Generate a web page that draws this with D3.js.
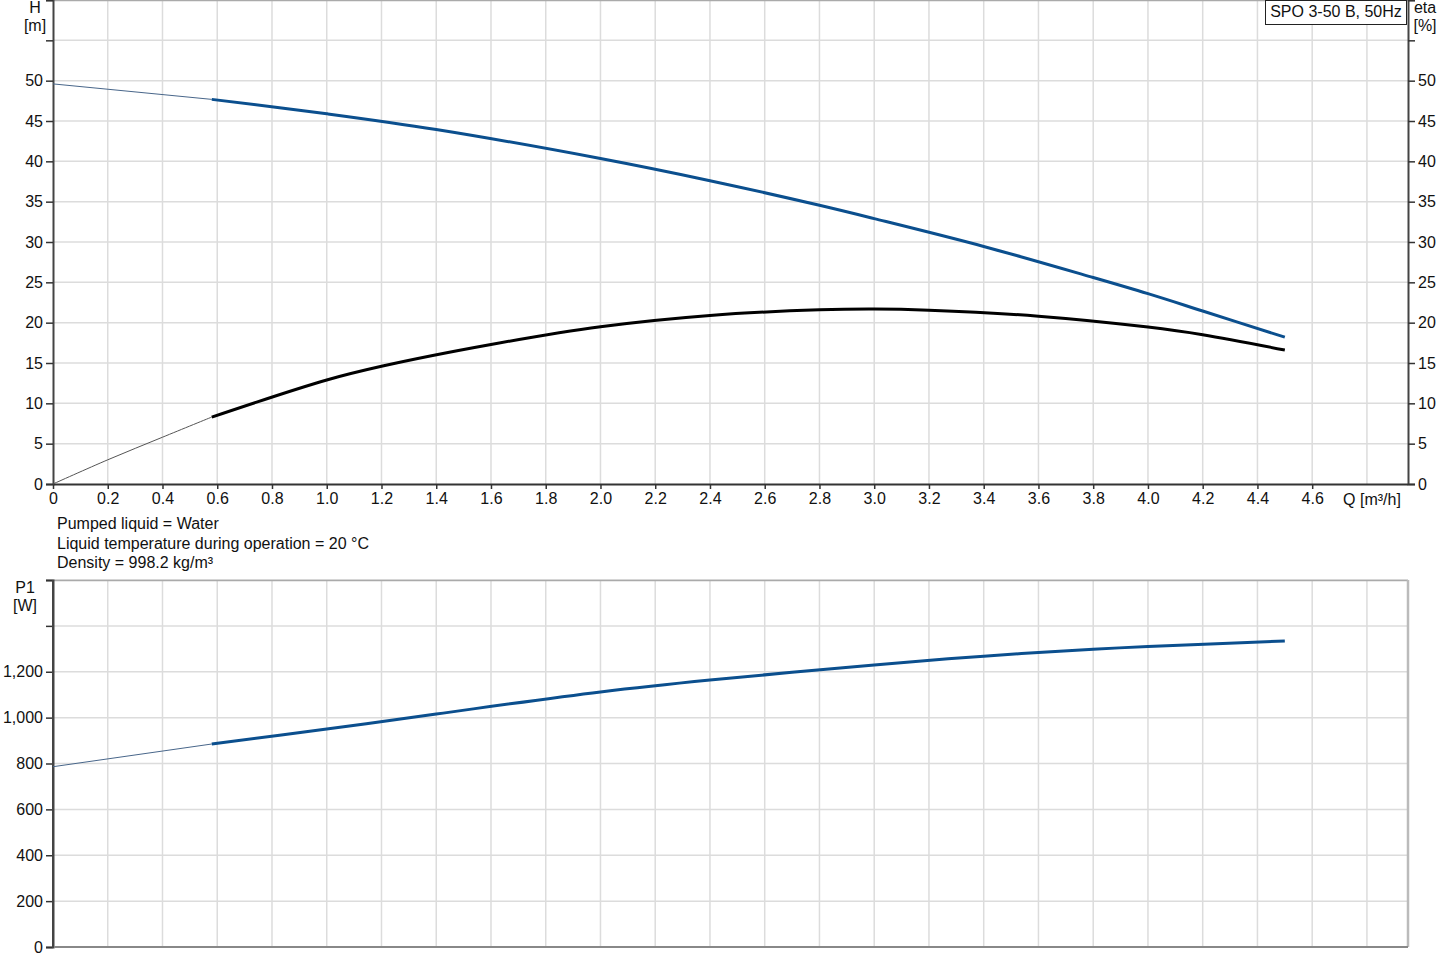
<!DOCTYPE html>
<html><head><meta charset="utf-8">
<script src="https://cdn.jsdelivr.net/npm/d3@7"></script>
<style>body{margin:0;background:#fff}svg text{font-family:"Liberation Sans",Arial,sans-serif;font-size:16px;fill:#111}</style>
</head><body><svg id="c" width="1445" height="970"></svg>
<script>
// Data
const qTicks = [0,0.2,0.4,0.6,0.8,1.0,1.2,1.4,1.6,1.8,2.0,2.2,2.4,2.6,2.8,3.0,3.2,3.4,3.6,3.8,4.0,4.2,4.4,4.6];
const hTicks = [0,5,10,15,20,25,30,35,40,45,50];
const pTicks = [0,200,400,600,800,1000,1200];
const qH = [0, 0.58, 1.0, 1.4, 2.0, 2.4, 2.8, 3.0, 3.4, 3.8, 4.0, 4.2, 4.5];
const H  = [49.6, 47.68, 45.9, 43.95, 40.35, 37.6, 34.55, 32.9, 29.45, 25.6, 23.6, 21.45, 18.2];
const qEta = [0, 0.2, 0.4, 0.58, 1.0, 1.2, 1.6, 2.0, 2.4, 2.8, 3.0, 3.2, 3.6, 4.0, 4.2, 4.5];
const eta  = [0, 3.0, 5.8, 8.3, 12.9, 14.6, 17.3, 19.5, 20.9, 21.6, 21.7, 21.55, 20.8, 19.45, 18.5, 16.6];
const qP = [0, 0.58, 1.0, 1.4, 2.0, 2.4, 3.0, 3.4, 3.8, 4.0, 4.5];
const P  = [786, 885, 950, 1016, 1112, 1164, 1229, 1268, 1298, 1310, 1334];
const qStart = 0.58;
const title = "SPO 3-50 B, 50Hz";
const notes = ["Pumped liquid = Water","Liquid temperature during operation = 20 °C","Density = 998.2 kg/m³"];

const svg = d3.select("#c");
const L = 53, R = 1408;
const x = d3.scaleLinear().domain([0, 4.95]).range([L, R]);
const yH = d3.scaleLinear().domain([0, 60]).range([484, 0]);
const yP = d3.scaleLinear().domain([0, 1600]).range([947, 580]);
const grid = "#dcdcdc";

function panel(y, ticks, extraTicks, fmt, rightAxis) {
  const [y0, y1] = y.range();
  const g = svg.append("g");
  const vq = d3.range(1, 25).map(i => i * 0.2);
  g.selectAll(".vg").data(vq).join("line")
    .attr("x1", d => x(d)).attr("x2", d => x(d)).attr("y1", y1).attr("y2", y0)
    .attr("stroke", grid).attr("stroke-width", 1.5);
  const allT = ticks.concat(extraTicks);
  g.selectAll(".hg").data(allT.filter(t => t > 0)).join("line")
    .attr("x1", L).attr("x2", R).attr("y1", d => y(d)).attr("y2", d => y(d))
    .attr("stroke", grid).attr("stroke-width", 1.5);
  g.append("line").attr("x1", L).attr("x2", R).attr("y1", y1 + 0.5).attr("y2", y1 + 0.5).attr("stroke", "#aaa").attr("stroke-width", 1.5);
  const la = d3.axisLeft(y).tickValues(allT).tickSize(7).tickFormat(d => ticks.includes(d) ? fmt(d) : "");
  const lg = g.append("g").attr("transform", `translate(${L},0)`).call(la);
  lg.select(".domain").attr("stroke", "#444").attr("stroke-width", 2);
  lg.selectAll(".tick line").attr("stroke", "#333").attr("stroke-width", 1.5);
  lg.selectAll(".tick text").attr("x", -10).style("font-size", "16px").style("font-family", "Liberation Sans, Arial").style("fill", "#111");
  if (rightAxis) {
    const ra = d3.axisRight(y).tickValues(allT).tickSize(7).tickFormat(d => ticks.includes(d) ? fmt(d) : "");
    const rg = g.append("g").attr("transform", `translate(${R},0)`).call(ra);
    rg.select(".domain").attr("stroke", "#444").attr("stroke-width", 2);
    rg.selectAll(".tick line").attr("stroke", "#333").attr("stroke-width", 1.5);
    rg.selectAll(".tick text").attr("x", 10).style("font-size", "16px").style("font-family", "Liberation Sans, Arial").style("fill", "#111");
  } else {
    g.append("line").attr("x1", R).attr("x2", R).attr("y1", y1).attr("y2", y0).attr("stroke", "#bbb").attr("stroke-width", 2.5);
  }
  return g;
}

// Top panel
panel(yH, hTicks, [55, 60], d => d, true);
const xa = d3.axisBottom(x).tickValues(qTicks).tickSize(5).tickFormat(d => d === 0 ? "0" : d3.format(".1f")(d));
const xg = svg.append("g").attr("transform", "translate(0,484)").call(xa);
xg.select(".domain").attr("stroke", "#333").attr("stroke-width", 2).attr("d", `M${L},0.5H${R}`);
xg.selectAll(".tick line").attr("stroke", "#333").attr("stroke-width", 1.5);
xg.selectAll(".tick text").attr("y", 9).style("font-size", "16px").style("font-family", "Liberation Sans, Arial").style("fill", "#111");
svg.append("text").attr("x", 1372).attr("y", 505).attr("text-anchor", "middle").text("Q [m³/h]");

svg.append("text").attr("x", 35).attr("y", 13).attr("text-anchor", "middle").text("H");
svg.append("text").attr("x", 35).attr("y", 31).attr("text-anchor", "middle").text("[m]");
svg.append("text").attr("x", 1425).attr("y", 13).attr("text-anchor", "middle").text("eta");
svg.append("text").attr("x", 1425).attr("y", 31).attr("text-anchor", "middle").text("[%]");
svg.append("text").attr("x", 25).attr("y", 593).attr("text-anchor", "middle").text("P1");
svg.append("text").attr("x", 25).attr("y", 611).attr("text-anchor", "middle").text("[W]");

notes.forEach((t, i) => svg.append("text").attr("x", 57).attr("y", 529 + i * 19.5).text(t));

// Bottom panel
panel(yP, pTicks, [1400, 1600], d => d3.format(",")(d), false);
svg.append("line").attr("x1", L).attr("x2", R).attr("y1", 947).attr("y2", 947).attr("stroke", "#888").attr("stroke-width", 2);
svg.append("line").attr("x1", L).attr("x2", L).attr("y1", 580).attr("y2", 948).attr("stroke", "#444").attr("stroke-width", 2);

function curve(qs, vs, y, color, thinColor) {
  const pts = qs.map((q, i) => [q, vs[i]]);
  const line = d3.line().x(d => x(d[0])).y(d => y(d[1])).curve(d3.curveCatmullRom.alpha(0.5));
  const iS = qs.indexOf(qStart);
  svg.append("path").attr("d", line(pts.slice(0, iS + 1))).attr("fill", "none").attr("stroke", thinColor).attr("stroke-width", 1);
  svg.append("path").attr("d", line(pts.slice(iS))).attr("fill", "none").attr("stroke", color).attr("stroke-width", 3);
}
curve(qH, H, yH, "#0b4f8e", "#48668a");
curve(qEta, eta, yH, "#000", "#555");
curve(qP, P, yP, "#0b4f8e", "#48668a");

const lb = svg.append("g");
lb.append("rect").attr("x", 1265.5).attr("y", 0.5).attr("width", 141).attr("height", 24).attr("fill", "#fff").attr("stroke", "#222").attr("stroke-width", 1);
lb.append("text").attr("x", 1336).attr("y", 17).attr("text-anchor", "middle").text(title);
</script></body></html>
